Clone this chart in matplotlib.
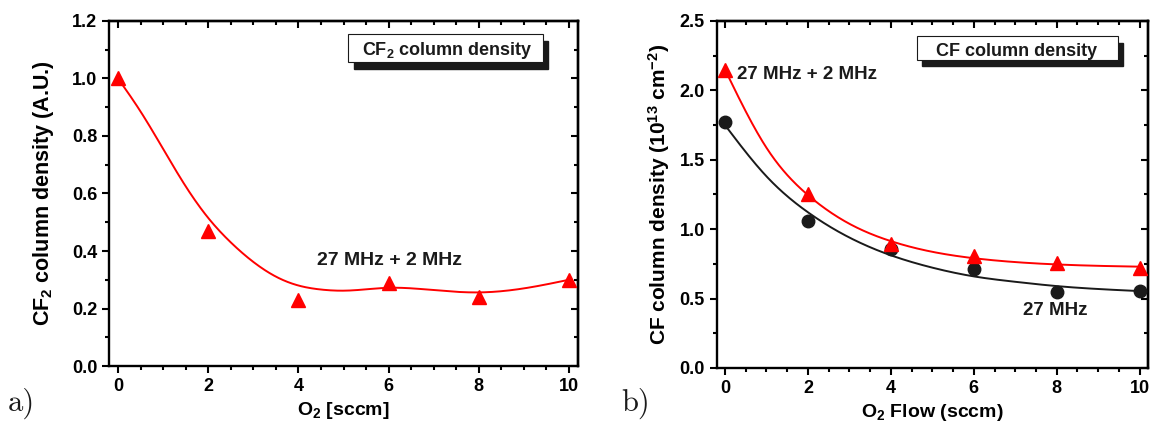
"""Two-panel CF2 / CF column density vs O2 flow, Origin-style axes."""

import numpy as np
import matplotlib
matplotlib.use("Agg")
import matplotlib.pyplot as plt
from matplotlib.patches import Rectangle
from matplotlib.ticker import MultipleLocator

# ---- data -------------------------------------------------------------------
o2_flow = [0, 2, 4, 6, 8, 10]

# a) CF2 column density, 27 MHz + 2 MHz (A.U.)
cf2_dual = [1.00, 0.47, 0.23, 0.29, 0.24, 0.30]
# smoothed fit line
cf2_fit_x = [0, 0.5, 1, 1.5, 2, 2.5, 3, 3.5, 4, 4.5, 5, 6, 7, 8, 9, 10]
cf2_fit_y = [1.00, 0.885, 0.755, 0.625, 0.515, 0.43, 0.362, 0.311, 0.28,
             0.266, 0.262, 0.272, 0.264, 0.256, 0.27, 0.30]

# b) CF column density (1e13 cm^-2)
cf_dual = [2.15, 1.25, 0.89, 0.81, 0.76, 0.72]
cf_single = [1.77, 1.06, 0.855, 0.715, 0.55, 0.555]
cf_fit_x = [0, 1, 2, 3, 4, 5, 6, 7, 8, 9, 10]
cf_dual_fit = [2.15, 1.587, 1.246, 1.039, 0.914, 0.837, 0.791, 0.763,
               0.746, 0.736, 0.730]
cf_single_fit = [1.75, 1.381, 1.122, 0.940, 0.812, 0.723, 0.660, 0.621,
                 0.590, 0.569, 0.554]

RED = "#ff0000"
BLACK = "#1a1a1a"

plt.rcParams["font.family"] = ["Liberation Sans", "DejaVu Sans"]
plt.rcParams["font.weight"] = "bold"
plt.rcParams["mathtext.fontset"] = "custom"
plt.rcParams["mathtext.rm"] = "Liberation Sans:bold"
plt.rcParams["mathtext.it"] = "Liberation Sans:bold"
plt.rcParams["mathtext.bf"] = "Liberation Sans:bold"


def spline(xs, ys, n=400):
    """Natural cubic spline through the read-off fit samples."""
    xs, ys = np.asarray(xs, float), np.asarray(ys, float)
    h = np.diff(xs)
    m = len(xs)
    A = np.zeros((m, m)); r = np.zeros(m)
    A[0, 0] = A[-1, -1] = 1
    for i in range(1, m - 1):
        A[i, i - 1] = h[i - 1]; A[i, i] = 2 * (h[i - 1] + h[i]); A[i, i + 1] = h[i]
        r[i] = 6 * ((ys[i + 1] - ys[i]) / h[i] - (ys[i] - ys[i - 1]) / h[i - 1])
    M = np.linalg.solve(A, r)
    xx = np.linspace(xs[0], xs[-1], n)
    k = np.clip(np.searchsorted(xs, xx) - 1, 0, m - 2)
    t0, t1 = xs[k], xs[k + 1]
    hk = t1 - t0
    a = (t1 - xx) / hk; b = (xx - t0) / hk
    yy = a * ys[k] + b * ys[k + 1] + ((a**3 - a) * M[k] + (b**3 - b) * M[k + 1]) * hk**2 / 6
    return xx, yy


def style_axes(ax, ymajor, yminor):
    for s in ax.spines.values():
        s.set_linewidth(1.7)
    ax.xaxis.set_major_locator(MultipleLocator(2))
    ax.xaxis.set_minor_locator(MultipleLocator(0.5))
    ax.yaxis.set_major_locator(MultipleLocator(ymajor))
    ax.yaxis.set_minor_locator(MultipleLocator(yminor))
    ax.tick_params(which="both", direction="out", width=1.5, labelsize=13)
    ax.tick_params(which="major", length=5)
    ax.tick_params(which="minor", length=3)
    # mirrored inward ticks on top / right
    top = ax.secondary_xaxis("top")
    top.xaxis.set_major_locator(MultipleLocator(2))
    top.xaxis.set_minor_locator(MultipleLocator(0.5))
    right = ax.secondary_yaxis("right")
    right.yaxis.set_major_locator(MultipleLocator(ymajor))
    right.yaxis.set_minor_locator(MultipleLocator(yminor))
    for sec in (top, right):
        sec.tick_params(which="both", direction="in", width=1.5,
                        labeltop=False, labelright=False)
        sec.tick_params(which="major", length=5)
        sec.tick_params(which="minor", length=3)
        for s in sec.spines.values():
            s.set_linewidth(1.7)


def title_box(ax, x0, y0, w, h, text, tx, ty):
    ax.add_patch(Rectangle((x0 + 0.012, y0 - 0.02), w, h, transform=ax.transAxes,
                           facecolor=BLACK, edgecolor=BLACK, zorder=5, clip_on=False))
    ax.add_patch(Rectangle((x0, y0), w, h, transform=ax.transAxes,
                           facecolor="white", edgecolor=BLACK, lw=0.8, zorder=6,
                           clip_on=False))
    ax.text(tx, ty, text, transform=ax.transAxes, ha="center", va="baseline",
            fontsize=13, fontweight="bold", color=BLACK, zorder=7)


fig = plt.figure(figsize=(11.5, 4.3), dpi=100)

# ---- a) ---------------------------------------------------------------------
ax1 = fig.add_axes([0.0948, 0.1488, 0.4078, 0.8024])
xx, yy = spline(cf2_fit_x, cf2_fit_y)
ax1.plot(xx, yy, color=RED, lw=1.4)
ax1.plot(o2_flow, cf2_dual, ls="none", marker="^", ms=10, color=RED, clip_on=False,
         zorder=4)
ax1.set_xlim(-0.2, 10.2)
ax1.set_ylim(0, 1.2)
style_axes(ax1, 0.2, 0.1)
ax1.set_xlabel("O$_2$ [sccm]", fontsize=14, fontweight="bold", labelpad=4)
ax1.set_ylabel("CF$_2$ column density (A.U.)", fontsize=15.5, fontweight="bold")
ax1.yaxis.set_label_coords(-0.114, 0.5)
ax1.text(4.41, 0.351, "27 MHz + 2 MHz", fontsize=14, fontweight="bold",
         color=BLACK, va="baseline")
title_box(ax1, 0.51, 0.881, 0.415, 0.08, "CF$_2$ column density", 0.722, 0.9)

# ---- b) ---------------------------------------------------------------------
ax2 = fig.add_axes([0.6232, 0.1442, 0.375, 0.807])
xx, yy = spline(cf_fit_x, cf_dual_fit)
ax2.plot(xx, yy, color=RED, lw=1.4)
xx, yy = spline(cf_fit_x, cf_single_fit)
ax2.plot(xx, yy, color=BLACK, lw=1.4)
ax2.plot(o2_flow, cf_single, ls="none", marker="o", ms=9, color=BLACK,
         clip_on=False, zorder=4)
ax2.plot(o2_flow, cf_dual, ls="none", marker="^", ms=10, color=RED,
         clip_on=False, zorder=4)
ax2.set_xlim(-0.2, 10.2)
ax2.set_ylim(0, 2.5)
style_axes(ax2, 0.5, 0.25)
ax2.set_xlabel("O$_2$ Flow (sccm)", fontsize=14, fontweight="bold", labelpad=4)
ax2.set_ylabel("CF column density (10$^{13}$ cm$^{-2}$)", fontsize=15,
               fontweight="bold")
ax2.yaxis.set_label_coords(-0.104, 0.5)
ax2.text(0.28, 2.08, "27 MHz + 2 MHz", fontsize=13.5, fontweight="bold",
         color=BLACK, va="baseline")
ax2.text(7.18, 0.382, "27 MHz", fontsize=13.5, fontweight="bold",
         color=BLACK, va="baseline")
title_box(ax2, 0.464, 0.889, 0.467, 0.067, "CF column density", 0.6956, 0.898)

# panel letters
fig.text(0.007, 0.045, "a)", family="cmr10", fontsize=22, color=BLACK)
fig.text(0.54, 0.045, "b)", family="cmr10", fontsize=22, color=BLACK)

fig.savefig("out.png", dpi=100)
